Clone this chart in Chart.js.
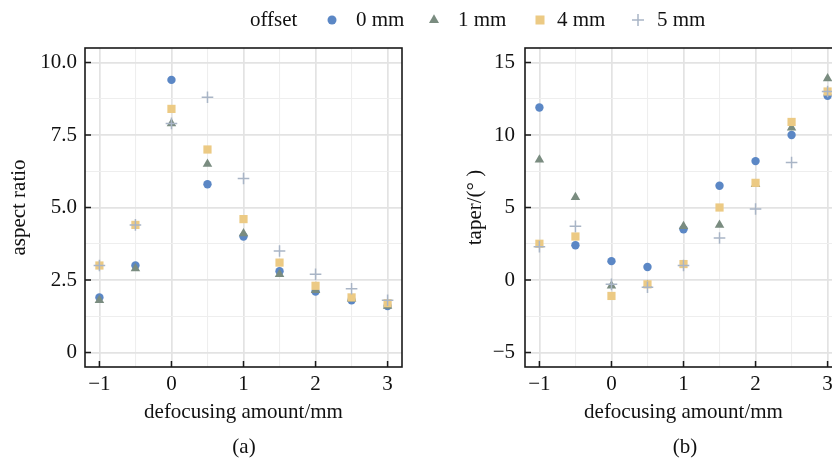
<!DOCTYPE html>
<html><head><meta charset="utf-8">
<script src="https://cdn.jsdelivr.net/npm/chart.js@4"></script>
<style>
html,body{margin:0;padding:0;overflow:hidden;background:#fff;width:832px;height:458px;}
body{position:relative;font-family:"Liberation Serif","Times New Roman",serif;color:#111;}
.cw{position:absolute;top:0;width:420px;height:458px;}
.t{position:absolute;font-size:21px;line-height:24px;white-space:nowrap;}
.cap{position:absolute;top:434px;font-size:21px;line-height:24px;transform:translateX(-50%);}
svg{position:absolute;overflow:visible;}
</style></head>
<body>
<div class="cw" style="left:0"><canvas id="c1" width="420" height="458"></canvas></div>
<div class="cw" style="left:440px"><canvas id="c2" width="420" height="458"></canvas></div>
<div id="legend"></div>
<div class="cap" style="left:244px">(a)</div>
<div class="cap" style="left:685px">(b)</div>
<script>
// ---- data ----
const xValues = [-1, -0.5, 0, 0.5, 1, 1.5, 2, 2.5, 3];
const seriesNames = ['0 mm', '1 mm', '4 mm', '5 mm'];
const legendTitle = 'offset';

const aspect0 = [1.9, 3.0, 9.4, 5.8, 4.0, 2.8, 2.1, 1.8, 1.6];
const aspect1 = [1.8, 2.9, 7.9, 6.5, 4.1, 2.7, 2.15, 1.85, 1.6];
const aspect4 = [3.0, 4.4, 8.4, 7.0, 4.6, 3.1, 2.3, 1.9, 1.7];
const aspect5 = [3.0, 4.4, 7.9, 8.8, 6.0, 3.5, 2.7, 2.2, 1.8];

const taper0 = [11.9, 2.4, 1.3, 0.9, 3.5, 6.5, 8.2, 10.0, 12.7];
const taper1 = [8.3, 5.7, -0.4, -0.35, 3.7, 3.8, 6.6, 10.5, 13.9];
const taper4 = [2.5, 3.0, -1.1, -0.3, 1.1, 5.0, 6.7, 10.9, 13.0];
const taper5 = [2.3, 3.7, -0.3, -0.5, 1.0, 2.9, 4.9, 8.1, 13.0];

const xTickValues = [-1, 0, 1, 2, 3];
const xTickLabels = ['\u22121', '0', '1', '2', '3'];
const xMinorValues = [-0.5, 0.5, 1.5, 2.5];
const aspectTickValues = [0, 2.5, 5, 7.5, 10];
const aspectTickLabels = ['0', '2.5', '5.0', '7.5', '10.0'];
const aspectMinorValues = [1.25, 3.75, 6.25, 8.75];
const taperTickValues = [-5, 0, 5, 10, 15];
const taperTickLabels = ['\u22125', '0', '5', '10', '15'];
const taperMinorValues = [-2.5, 2.5, 7.5, 12.5];

// ---- styles ----
const colors = ['#5b87c5', '#7a8c80', '#ecca84', '#a9b5c6'];
const styles = ['circle', 'triangle', 'rect', 'cross'];
const radii = [4.2, 5.5, 5.8, 5.8];
const FONT = '"Liberation Serif","Times New Roman",serif';
const FS = 21;
const TXT = '#111';

// ---- legend (HTML) ----
const legendLayout = {titleX: 250, items: [{mx: 332, tx: 356}, {mx: 434, tx: 458}, {mx: 540, tx: 557}, {mx: 638, tx: 657}], y: 20};
(function(){
  const lg = document.getElementById('legend');
  let h = '<div class="t" style="left:' + legendLayout.titleX + 'px;top:' + (legendLayout.y - 13) + 'px">' + legendTitle + '</div>';
  seriesNames.forEach((n, i) => {
    const it = legendLayout.items[i], c = colors[i], y = legendLayout.y;
    let shape;
    if (i === 0) shape = '<circle cx="0" cy="0" r="4.5" fill="' + c + '"/>';
    else if (i === 1) shape = '<polygon points="0,-5.8 5,2.9 -5,2.9" fill="' + c + '"/>';
    else if (i === 2) shape = '<rect x="-4.5" y="-4.5" width="9" height="9" fill="' + c + '"/>';
    else shape = '<path d="M-6 0H6M0 -6V6" stroke="' + c + '" stroke-width="1.5"/>';
    h += '<svg width="1" height="1" style="left:' + it.mx + 'px;top:' + y + 'px">' + shape + '</svg>';
    h += '<div class="t" style="left:' + it.tx + 'px;top:' + (y - 13) + 'px">' + n + '</div>';
  });
  lg.innerHTML = h;
})();

// ---- chart builder ----
const framePlugin = {
  id: 'frame',
  afterDraw(chart, args, opts) {
    const ctx = chart.ctx, a = chart.chartArea;
    const xs = chart.scales.x, ys = chart.scales.y;
    ctx.save();
    ctx.strokeStyle = '#1a1a1a';
    ctx.lineWidth = 1.5;
    ctx.beginPath();
    opts.xMajor.forEach(v => { const p = xs.getPixelForValue(v); ctx.moveTo(p, a.bottom); ctx.lineTo(p, a.bottom - 6); });
    opts.yMajor.forEach(v => { const p = ys.getPixelForValue(v); ctx.moveTo(a.left, p); ctx.lineTo(a.left + 6, p); });
    ctx.stroke();
    ctx.lineWidth = 1.6;
    ctx.strokeRect(a.left, a.top, a.right - a.left, a.bottom - a.top);
    ctx.restore();
  }
};

function makeChart(id, series, yMin, yMax, yTicks, yLabels, yMinor, yTitle, yTitlePad, yTickPad) {
  const datasets = series.map((s, i) => ({
    label: seriesNames[i],
    data: xValues.map((x, j) => ({x: x, y: s[j]})),
    pointStyle: styles[i],
    pointRadius: radii[i],
    pointHoverRadius: radii[i],
    backgroundColor: colors[i],
    borderColor: colors[i],
    borderWidth: i === 3 ? 1.5 : 0,
    order: 3 - i
  }));
  const isMajor = (list, v) => list.some(t => Math.abs(t - v) < 1e-9);
  const gridOpts = (major) => ({
    drawTicks: false,
    color: c => isMajor(major, c.tick.value) ? '#e3e3e3' : '#eeeeee',
    lineWidth: c => isMajor(major, c.tick.value) ? 1.7 : 1.1
  });
  return new Chart(document.getElementById(id), {
    type: 'scatter',
    data: {datasets},
    plugins: [framePlugin],
    options: {
      responsive: false, animation: false, devicePixelRatio: 1,
      layout: {padding: {top: 48, right: 18, left: 0, bottom: 0}},
      plugins: {legend: {display: false}, tooltip: {enabled: false},
        frame: {xMajor: xTickValues, yMajor: yTicks}},
      scales: {
        x: {
          type: 'linear', min: -1.2, max: 3.2,
          afterBuildTicks: s => { s.ticks = xTickValues.concat(xMinorValues).sort((a, b) => a - b).map(v => ({value: v})); },
          afterFit: s => { s.height = 91; },
          ticks: {autoSkip: false, maxRotation: 0, padding: 5, color: TXT, font: {family: FONT, size: FS},
            callback: v => { const k = xTickValues.findIndex(t => Math.abs(t - v) < 1e-9); return k >= 0 ? xTickLabels[k] : ''; }},
          grid: gridOpts(xTickValues),
          border: {display: false},
          title: {display: true, text: 'defocusing amount/mm', color: TXT, font: {family: FONT, size: FS}, padding: {top: 4, bottom: 33}}
        },
        y: {
          type: 'linear', min: yMin, max: yMax,
          afterBuildTicks: s => { s.ticks = yTicks.concat(yMinor).sort((a, b) => a - b).map(v => ({value: v})); },
          afterFit: s => { s.width = 85; },
          ticks: {autoSkip: false, padding: yTickPad, color: TXT, font: {family: FONT, size: FS},
            callback: v => { const k = yTicks.findIndex(t => Math.abs(t - v) < 1e-9); return k >= 0 ? yLabels[k] : ''; }},
          grid: gridOpts(yTicks),
          border: {display: false},
          title: {display: true, text: yTitle, color: TXT, font: {family: FONT, size: FS}, padding: {top: yTitlePad, bottom: 0}}
        }
      }
    }
  });
}

makeChart('c1', [aspect0, aspect1, aspect4, aspect5], -0.5, 10.5,
  aspectTickValues, aspectTickLabels, aspectMinorValues, 'aspect ratio', 7, 8);
makeChart('c2', [taper0, taper1, taper4, taper5], -6, 16,
  taperTickValues, taperTickLabels, taperMinorValues, 'taper/(\u00b0 )', 23, 10);
</script>
</body></html>
